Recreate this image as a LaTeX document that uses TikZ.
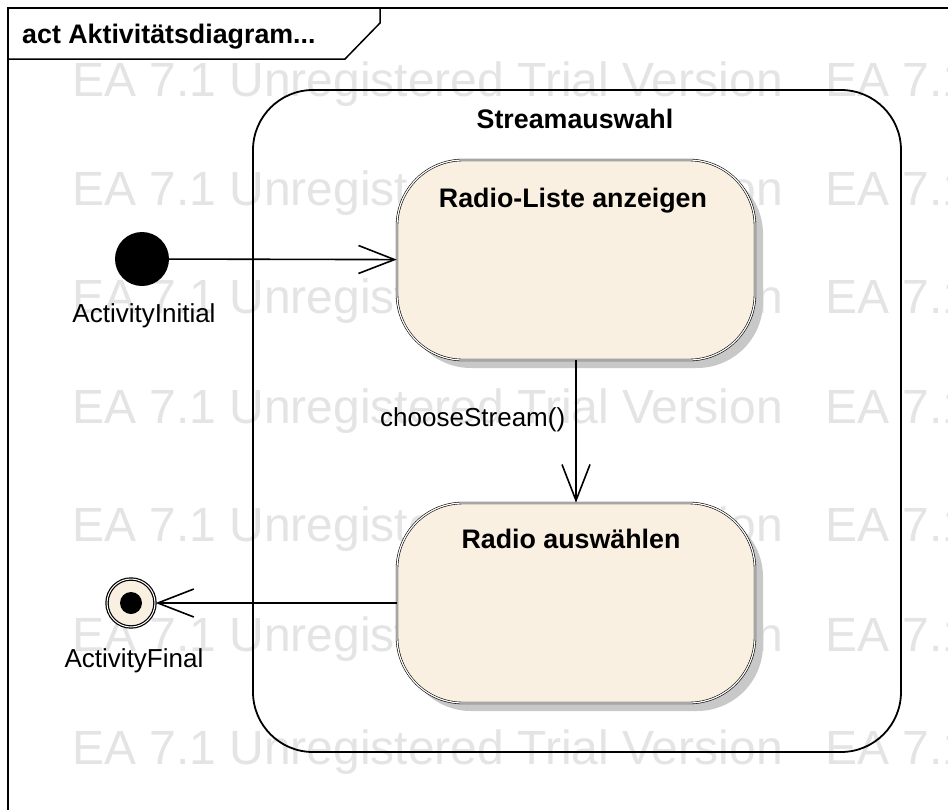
\documentclass[tikz,border=0pt]{standalone}
\usepackage{fontspec}
\setmainfont{Liberation Sans}
\usepackage{tikz}
\usetikzlibrary{arrows.meta}
\usetikzlibrary{shadows}

\definecolor{actfill}{RGB}{250,240,226}
\definecolor{wmgray}{RGB}{228,228,228}
\definecolor{shadegray}{RGB}{200,200,200}

\tikzset{
  watermark/.style={text=wmgray, inner sep=0pt, anchor=base west,
    font=\fontsize{48}{52}\selectfont},
  boldtext/.style={inner sep=0pt, font=\fontsize{26.8}{31}\selectfont\bfseries},
  plaintext/.style={inner sep=0pt, font=\fontsize{26}{30}\selectfont},
  action/.style={rectangle, rounded corners=66pt, draw, line width=0.6pt,
    double=white, double distance=1.2pt, fill=actfill, inner sep=0pt,
    minimum width=358pt, minimum height=200pt,
    drop shadow={shadow xshift=8pt, shadow yshift=-8pt, fill=shadegray, opacity=1}},
  composite/.style={rectangle, rounded corners=60pt, draw, line width=1.8pt,
    inner sep=0pt, minimum width=648pt, minimum height=662pt},
  flow/.style={line width=1.6pt, -{Straight Barb[length=36pt, width=28pt]}}
}

\begin{document}
\begin{tikzpicture}[x=1pt, y=-1pt]
    \clip (0,0) rectangle (948,809);
    \fill[white] (0,0) rectangle (948,809);
    % trial watermark
    \foreach \wy [count=\i] in {96,205,313,423,541,651,764} {
      \node[watermark] (wmA\i) at (72,\wy) {EA 7.1 Unregistered Trial Version};
      \node[watermark] (wmB\i) at (825,\wy) {EA 7.1};
    }
    % diagram frame
    \draw[line width=1.5pt] (960,8) -- (8,8) -- (8,820);
    \draw[line width=1.5pt] (8,59) -- (345,59) -- (380,23) -- (380,8);
    \node[boldtext, anchor=base west] (actTitle) at (22,43) {act Aktivitätsdiagram...};

    \node[composite] (streamSel) at (577,421) {};
    \node[boldtext, anchor=base] (streamTitle) at (575,128) {Streamauswahl};

    \node[action] (raList) at (576,260) {};
    \node[boldtext, anchor=base] (raListTitle) at (573,207) {Radio-Liste anzeigen};
    \node[action] (raSelect) at (576,603) {};
    \node[boldtext, anchor=base] (raSelectTitle) at (571,548) {Radio auswählen};

    \node[circle, fill=black, inner sep=0pt, minimum size=54pt] (initial) at (142,259) {};
    \node[plaintext, anchor=base] (initialLbl) at (144,322) {ActivityInitial};
    \node[circle, draw, line width=1.2pt, double=white, double distance=1pt, fill=actfill,
      inner sep=0pt, minimum size=48pt] (final) at (131,603) {};
    \node[circle, fill=black, inner sep=0pt, minimum size=22pt] (finalDot) at (final) {};
    \node[plaintext, anchor=base] (finalLbl) at (134,667) {ActivityFinal};

    \draw [flow] (initial) -- (raList);
    \draw [flow] (raList) -- node [plaintext, left=10pt, pos=0.42] (chooseLbl) {chooseStream()} (raSelect);
    \draw [flow] (raSelect) -- (final);
\end{tikzpicture}
\end{document}
